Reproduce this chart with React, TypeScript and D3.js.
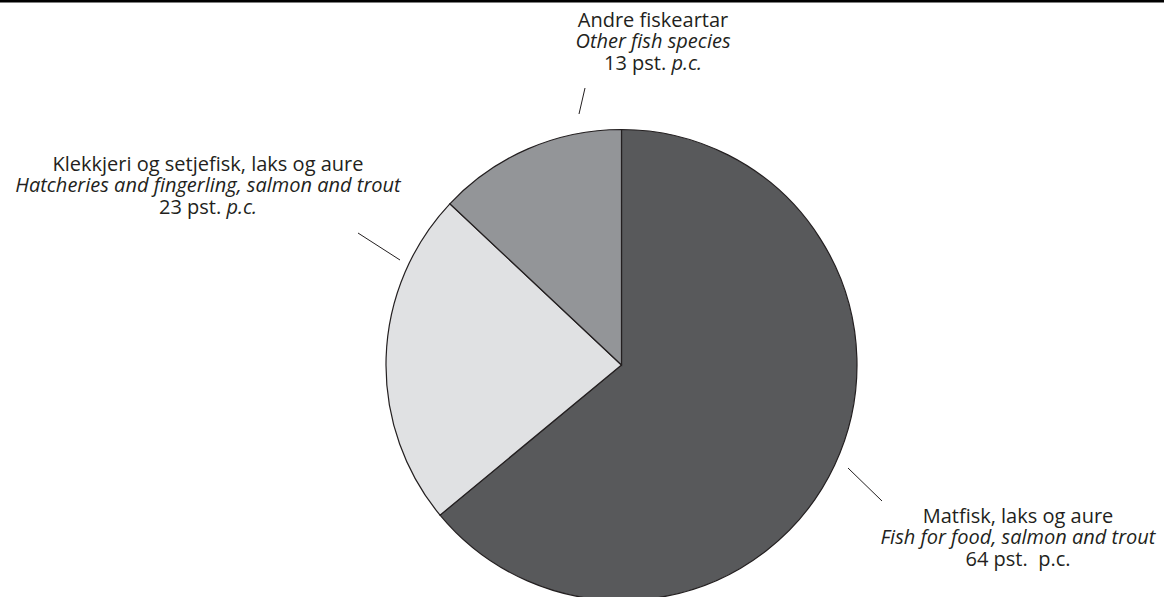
import React from "react";
import * as d3 from "d3";

const categories = ["Matfisk, laks og aure", "Klekkjeri og setjefisk, laks og aure", "Andre fiskeartar"];
const englishNames = ["Fish for food, salmon and trout", "Hatcheries and fingerling, salmon and trout", "Other fish species"];
const shares = [64, 23, 13];
const colors = ["#58595b", "#e0e1e3", "#939598"];
const pcItalic = [false, true, true];

const W = 1164;
const H = 597;
const cx = 621.5;
const cy = 365;
const R = 235.5;

// label anchor (center x, first baseline) and leader line endpoints
const labelPos = [
  { x: 1018, y: 523, line: [[848, 468], [882, 501]] },
  { x: 208, y: 171, line: [[358, 233], [400, 260]] },
  { x: 653, y: 27, line: [[585, 88], [579, 114]] },
];

export default function App() {
  const pie = d3.pie<number>().sort(null).value((d) => d);
  const arcs = pie(shares);
  const arc = d3.arc<d3.PieArcDatum<number>>().innerRadius(0).outerRadius(R);
  const font = "'Open Sans', 'DejaVu Sans', sans-serif";
  const fs = 20;
  const lh = 21.3;
  return (
    <svg
      width={W}
      height={H}
      style={{ position: "absolute", left: 0, top: 0, display: "block", background: "#fff" }}
    >
      <rect x={0} y={0} width={W} height={2.5} fill="#000" />
      <g transform={`translate(${cx},${cy})`}>
        {arcs.map((a, i) => (
          <path key={i} d={arc(a) || ""} fill={colors[i]} stroke="#231f20" strokeWidth={1.2} />
        ))}
      </g>
      {labelPos.map((p, i) => (
        <g key={i}>
          <line x1={p.line[0][0]} y1={p.line[0][1]} x2={p.line[1][0]} y2={p.line[1][1]} stroke="#231f20" strokeWidth={1} />
          <text x={p.x} y={p.y} textAnchor="middle" fontFamily={font} fontSize={fs} fill="#231f20">
            {categories[i]}
          </text>
          <text x={p.x} y={p.y + lh} textAnchor="middle" fontFamily={font} fontSize={fs} fontStyle="italic" fill="#231f20">
            {englishNames[i]}
          </text>
          <text x={p.x} y={p.y + 2 * lh} textAnchor="middle" fontFamily={font} fontSize={fs} fill="#231f20" xmlSpace="preserve">
            <tspan>{`${shares[i]} pst.${pcItalic[i] ? " " : "  "}`}</tspan>
            <tspan fontStyle={pcItalic[i] ? "italic" : "normal"}>p.c.</tspan>
          </text>
        </g>
      ))}
    </svg>
  );
}
